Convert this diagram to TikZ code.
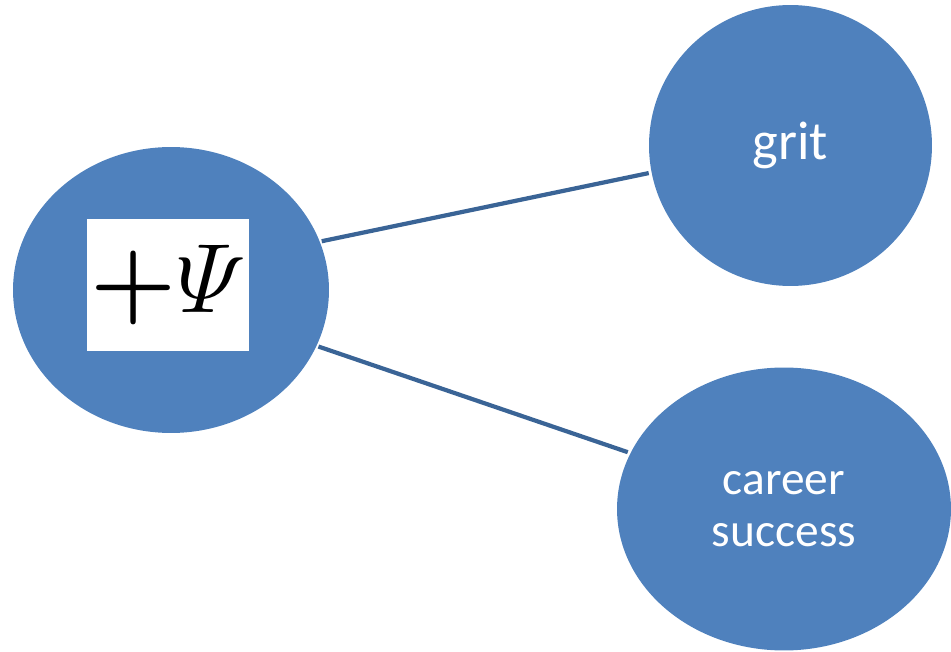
\RequirePackage{fix-cm}
\documentclass[tikz,border=0pt]{standalone}
\usepackage{amsmath}
\usepackage{fontspec}
\setmainfont{Carlito}
\usetikzlibrary{shapes.geometric, positioning}
\definecolor{nodeblue}{HTML}{4F81BD}
\definecolor{edgeblue}{HTML}{3A6496}
\tikzset{
  bubble/.style={ellipse, fill=nodeblue, text=white, align=center, inner sep=0pt},
  link/.style={edgeblue, line width=2.4pt, shorten <=1pt, shorten >=1.5pt},
}

\begin{document}
\begin{tikzpicture}[x=0.02cm, y=-0.02cm]
    \useasboundingbox (0,0) rectangle (951,652);
    \node[bubble, minimum width=6.32cm, minimum height=5.72cm] (psi) at (171,290) {};
    \node[fill=white, minimum width=3.24cm, minimum height=2.64cm, inner sep=0pt] (psibox) at (168,285)
      {\fontsize{56}{60}\selectfont $\boldsymbol{+}\varPsi$};
    \node[bubble, minimum width=5.66cm, minimum height=5.62cm, font=\fontsize{31}{37}\selectfont] (grit) at (790.5,145.5) {grit};
    \node[bubble, minimum width=6.68cm, minimum height=5.66cm, font=\fontsize{27}{29.5}\selectfont] (career) at (784,509) {career\\success};
    \draw[link] (psi.18.3) -- (grit.191.2);
    \draw[link] (psi.339.7) -- (career.160.6);
  \end{tikzpicture}
\end{document}
